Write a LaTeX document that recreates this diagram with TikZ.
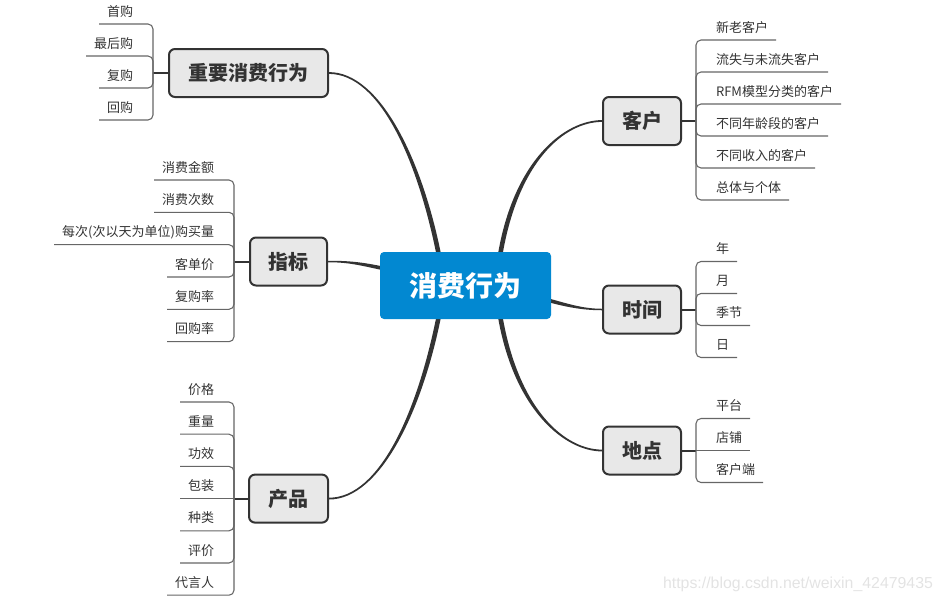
\documentclass[tikz,border=0pt]{standalone}
\usepackage{fontspec}
\setmainfont{Noto Sans CJK SC}
\newfontfamily\wmfont{Liberation Sans}
\usetikzlibrary{calc,backgrounds}
\definecolor{ink}{HTML}{333333}
\definecolor{boxfill}{HTML}{E8E8E8}
\definecolor{ctrblue}{HTML}{0288D1}
\definecolor{leafgray}{HTML}{666666}
\definecolor{wmgray}{HTML}{E3E3E3}
\newcommand\taperline[6]{\fill[ink] ($#1+(#5)$) .. controls ($#2+(#5)$) and ($#3+(#6)$) .. ($#4+(#6)$) -- ($#4-(#6)$) .. controls ($#3-(#6)$) and ($#2-(#5)$) .. ($#1-(#5)$) -- cycle;}
\begin{document}
\begin{tikzpicture}[x=0.75pt,y=-0.75pt,
  mainbox/.style={draw=ink, line width=1.5pt, fill=boxfill, rounded corners=4.5pt, text=ink,
    font=\fontsize{15pt}{18pt}\selectfont\bfseries, minimum height=36pt, inner sep=0pt},
  ctrbox/.style={fill=ctrblue, rounded corners=3pt, text=white,
    font=\fontsize{21pt}{25pt}\selectfont\bfseries, minimum width=128.25pt, minimum height=50.25pt, inner sep=0pt},
  leaf/.style={text=ink, font=\fontsize{9.75pt}{12pt}\selectfont, inner xsep=6pt, inner ysep=4.4pt,
    text height=8.3pt, text depth=1.5pt, outer sep=0pt},
  leafL/.style={leaf, anchor=south east},
  leafR/.style={leaf, anchor=south west},
  leafline/.style={draw=leafgray, line width=0.8pt, rounded corners=3.75pt},
  stem/.style={draw=ink, line width=1.5pt}]
\useasboundingbox (0,0) rectangle (944,604);

% main nodes
\node[mainbox, minimum width=119.25pt] (imp) at (248.5,73) {重要消费行为};
\node[mainbox, minimum width=57.75pt] (idx) at (288.5,261.5) {指标};
\node[mainbox, minimum width=59.25pt] (prod) at (288.5,498.6) {产品};
\node[mainbox, minimum width=58.5pt] (cust) at (642,121) {客户};
\node[mainbox, minimum width=58.5pt] (time) at (642,309.5) {时间};
\node[mainbox, minimum width=58.5pt] (place) at (642,450.5) {地点};
\node[ctrbox] (ctr) at (465.5,285.5) {消费行为};

% main curves
\coordinate (b1) at ($(ctr.north)+(-26.5,4)$);
\coordinate (b2) at ($(ctr.north)+(34.5,4)$);
\coordinate (b3) at ($(ctr.south)+(-26.5,-4)$);
\coordinate (b4) at ($(ctr.south)+(34.5,-4)$);
\coordinate (b5) at ($(ctr.west)+(4,-17)$);
\coordinate (b6) at ($(ctr.east)+(-4,14.5)$);
\begin{pgfonlayer}{background}
\taperline{(imp.east)}{(380,73)}{(420,160)}{(b1)}{0,-0.9}{2.25,-0.46}
\taperline{(cust.west)}{(565,121)}{(516,160)}{(b2)}{0,0.9}{2.27,0.38}
\taperline{(prod.east)}{(380,498.6)}{(420,411)}{(b3)}{0,-0.9}{-2.25,-0.45}
\taperline{(place.west)}{(565,450.5)}{(516,410)}{(b4)}{0,0.9}{-2.27,0.38}
\taperline{(idx.east)}{(350,261.5)}{(362,264)}{(b5)}{0,-0.75}{0.35,-1.8}
\taperline{(time.west)}{(582,309.5)}{(566,305)}{(b6)}{0,0.75}{-0.45,1.8}
\end{pgfonlayer}

% junctions
\coordinate (impj) at (153,73);
\coordinate (idxj) at (234,261.5);
\coordinate (prodj) at (234,498.6);
\coordinate (custj) at (696,121);
\coordinate (timej) at (696,309.5);
\coordinate (placej) at (696,450.5);
\draw[stem] (imp.west) -- (impj);
\draw[stem] (idx.west) -- (idxj);
\draw[stem] (prod.west) -- (prodj);
\draw[stem] (cust.east) -- (custj);
\draw[stem] (time.east) -- (timej);
\draw[stem] (place.east) -- (placej);

% leaves: 重要消费行为
\node[leafL] (imp1) at (141,24) {首购};
\node[leafL] (imp2) at (141,56) {最后购};
\node[leafL] (imp3) at (141,88) {复购};
\node[leafL] (imp4) at (141,120) {回购};
\foreach \i in {1,...,4} \draw[leafline] (impj) |- (imp\i.south west);

% leaves: 指标
\node[leafL] (idx1) at (222,180) {消费金额};
\node[leafL] (idx2) at (222,212.3) {消费次数};
\node[leafL] (idx3) at (222,244.7) {每次(次以天为单位)购买量};
\node[leafL] (idx4) at (222,277) {客单价};
\node[leafL] (idx5) at (222,309.3) {复购率};
\node[leafL] (idx6) at (222,341.7) {回购率};
\foreach \i in {1,...,6} \draw[leafline] (idxj) |- (idx\i.south west);

% leaves: 产品
\node[leafL] (prod1) at (222,402) {价格};
\node[leafL] (prod2) at (222,434.2) {重量};
\node[leafL] (prod3) at (222,466.4) {功效};
\node[leafL] (prod4) at (222,498.6) {包装};
\node[leafL] (prod5) at (222,530.8) {种类};
\node[leafL] (prod6) at (222,563) {评价};
\node[leafL] (prod7) at (222,595.2) {代言人};
\foreach \i in {1,2,3,5,6,7} \draw[leafline] (prodj) |- (prod\i.south west);
\draw[leafline] (prodj) -- (prod4.south west);

% leaves: 客户
\node[leafR] (cust1) at (708,40) {新老客户};
\node[leafR] (cust2) at (708,72) {流失与未流失客户};
\node[leafR] (cust3) at (708,104) {RFM模型分类的客户};
\node[leafR] (cust4) at (708,136) {不同年龄段的客户};
\node[leafR] (cust5) at (708,168) {不同收入的客户};
\node[leafR] (cust6) at (708,200) {总体与个体};
\foreach \i in {1,...,6} \draw[leafline] (custj) |- (cust\i.south east);

% leaves: 时间
\node[leafR] (time1) at (708,261.5) {年};
\node[leafR] (time2) at (708,293.5) {月};
\node[leafR] (time3) at (708,325.5) {季节};
\node[leafR] (time4) at (708,357.5) {日};
\foreach \i in {1,...,4} \draw[leafline] (timej) |- (time\i.south east);

% leaves: 地点
\node[leafR] (place1) at (708,418.5) {平台};
\node[leafR] (place2) at (708,450.5) {店铺};
\node[leafR] (place3) at (708,482.5) {客户端};
\draw[leafline] (placej) |- (place1.south east);
\draw[leafline] (placej) -- (place2.south east);
\draw[leafline] (placej) |- (place3.south east);

% watermark
\node[text=wmgray, font=\wmfont\fontsize{11.9pt}{14pt}\selectfont, inner sep=0pt] (wm) at (798,584) {https://blog.csdn.net/weixin\_42479435};
\end{tikzpicture}
\end{document}
